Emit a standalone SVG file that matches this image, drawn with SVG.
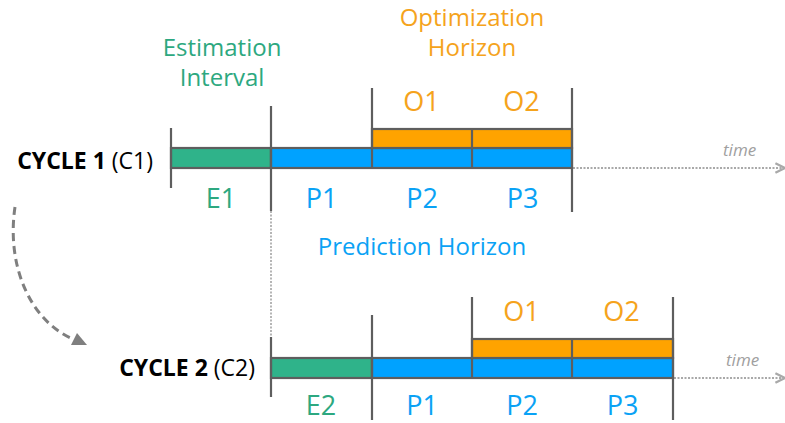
<svg xmlns="http://www.w3.org/2000/svg" width="785" height="423" viewBox="0 0 785 423">
  <style>
    text { font-family: "Open Sans", "Liberation Sans", sans-serif; }
    .green { fill: #2DA880; }
    .blue { fill: #0AA2F5; }
    .orange { fill: #F5A31C; }
    .seg { font-size: 27px; text-anchor: middle; }
    .title { font-size: 24px; text-anchor: middle; }
    .cycle { font-size: 23px; fill: #000; text-anchor: end; }
    .cycle .b { font-weight: bold; }
    .time { font-size: 17px; font-style: italic; fill: #A0A0A0; }
    .barE { fill: #2FB38A; stroke: #5E5E5E; stroke-width: 2.2; }
    .barP { fill: #00A2FF; stroke: #5E5E5E; stroke-width: 2.2; }
    .barO { fill: #FFA300; stroke: #5E5E5E; stroke-width: 2.2; }
    .tick { stroke: #5E5E5E; stroke-width: 2.2; fill: none; }
    .timeline { stroke: #A9A9A9; stroke-width: 2; stroke-dasharray: 2 1.5; fill: none; }
    .guide { stroke: #B5B5B5; stroke-width: 2; stroke-dasharray: 2 1.5; fill: none; }
    .cycle-arrow { stroke: #7F7F7F; stroke-width: 3; stroke-dasharray: 8 5; fill: none; }
  </style>
  <defs>
    <marker id="head-open" viewBox="0 0 10 10" refX="9" refY="5" markerWidth="6" markerHeight="6" orient="auto" markerUnits="strokeWidth">
      <path d="M1,1 L9,5 L1,9" fill="none" stroke="#A9A9A9" stroke-width="2"/>
    </marker>
  </defs>

  <!-- section headings -->
  <g id="estimation-interval">
    <text class="title green" x="222" y="56">Estimation</text>
    <text class="title green" x="222" y="86">Interval</text>
  </g>
  <g id="optimization-horizon">
    <text class="title orange" x="472" y="26">Optimization</text>
    <text class="title orange" x="472" y="56">Horizon</text>
  </g>
  <g id="prediction-horizon">
    <text class="title blue" x="422" y="255">Prediction Horizon</text>
  </g>

  <!-- connectors -->
  <g id="connectors">
    <path class="cycle-arrow" d="M15,207 C6,268 32,322 73,339"/>
    <polygon points="87,345 77,333 71,345" fill="#7F7F7F"/>
    <line class="guide" x1="271" y1="211" x2="271" y2="337"/>
    <line class="timeline" x1="573" y1="168" x2="785" y2="168" marker-end="url(#head-open)"/>
    <line class="timeline" x1="674" y1="378" x2="785" y2="378" marker-end="url(#head-open)"/>
  </g>

  <!-- cycle 1 -->
  <g id="cycle-1">
    <text class="cycle" x="153" y="169"><tspan class="b">CYCLE 1</tspan> (C1)</text>
    <g id="c1-E1">
      <rect class="barE" x="171" y="148" width="100" height="20"/>
      <text class="seg green" x="221" y="208">E1</text>
    </g>
    <g id="c1-P">
      <rect class="barP" x="271" y="148" width="301" height="20"/>
      <text class="seg blue" x="321.5" y="208">P1</text>
      <text class="seg blue" x="422" y="208">P2</text>
      <text class="seg blue" x="522.5" y="208">P3</text>
    </g>
    <g id="c1-O">
      <rect class="barO" x="372" y="129" width="200" height="19"/>
      <line class="tick" x1="472" y1="129" x2="472" y2="168"/>
      <text class="seg orange" x="421.5" y="111">O1</text>
      <text class="seg orange" x="521.5" y="111">O2</text>
    </g>
    <line class="tick" x1="171" y1="128" x2="171" y2="188"/>
    <line class="tick" x1="271" y1="106" x2="271" y2="211"/>
    <line class="tick" x1="372" y1="88" x2="372" y2="168"/>
    <line class="tick" x1="572" y1="88" x2="572" y2="212"/>
    <text class="time" x="723" y="156">time</text>
  </g>

  <!-- cycle 2 -->
  <g id="cycle-2">
    <text class="cycle" x="255" y="376"><tspan class="b">CYCLE 2</tspan> (C2)</text>
    <g id="c2-E2">
      <rect class="barE" x="271" y="358" width="101" height="20"/>
      <text class="seg green" x="321" y="415">E2</text>
    </g>
    <g id="c2-P">
      <rect class="barP" x="372" y="358" width="301" height="20"/>
      <text class="seg blue" x="422" y="415">P1</text>
      <text class="seg blue" x="522" y="415">P2</text>
      <text class="seg blue" x="622.5" y="415">P3</text>
    </g>
    <g id="c2-O">
      <rect class="barO" x="472" y="339" width="201" height="19"/>
      <line class="tick" x1="572" y1="339" x2="572" y2="378"/>
      <text class="seg orange" x="521.5" y="321">O1</text>
      <text class="seg orange" x="621.5" y="321">O2</text>
    </g>
    <line class="tick" x1="271" y1="337" x2="271" y2="397"/>
    <line class="tick" x1="372" y1="315" x2="372" y2="420"/>
    <line class="tick" x1="472" y1="297" x2="472" y2="378"/>
    <line class="tick" x1="673" y1="297" x2="673" y2="420"/>
    <text class="time" x="726" y="366">time</text>
  </g>
</svg>
